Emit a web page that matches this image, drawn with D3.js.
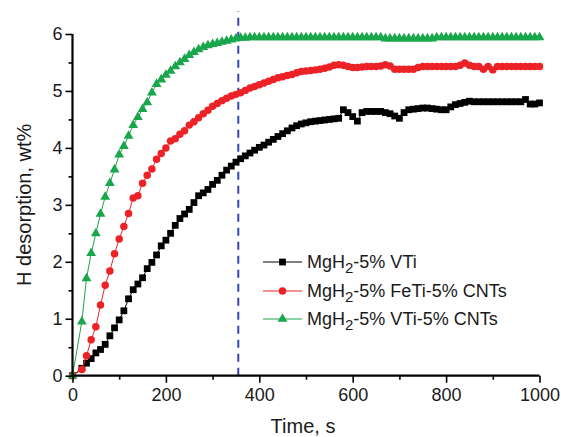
<!DOCTYPE html>
<html><head><meta charset="utf-8">
<script src="https://cdn.jsdelivr.net/npm/d3@7"></script>
<style>body{margin:0;background:#fff}svg{display:block}text{font-family:"Liberation Sans",Arial,sans-serif}</style>
</head><body><svg id="c" width="561" height="437"></svg>
<script>
const times = [0,20,30,40,50,60,70,80,90,100,110,120,130,140,150,160,170,180,190,200,210,220,230,240,250,260,270,280,290,300,310,320,330,340,350,360,370,380,390,400,410,420,430,440,450,460,470,480,490,500,510,520,530,540,550,560,570,580,590,600,610,620,630,640,650,660,670,680,690,700,710,720,730,740,750,760,770,780,790,800,810,820,830,840,850,860,870,880,890,900,910,920,930,940,950,960,970,980,990,1000];
const vti = [0,0.13,0.22,0.30,0.40,0.46,0.55,0.70,0.84,0.98,1.14,1.35,1.51,1.61,1.72,1.88,1.99,2.12,2.28,2.38,2.50,2.64,2.76,2.84,2.92,3.04,3.16,3.21,3.27,3.36,3.43,3.52,3.61,3.68,3.75,3.81,3.86,3.91,3.96,4.01,4.05,4.10,4.15,4.20,4.25,4.30,4.35,4.39,4.42,4.44,4.46,4.47,4.48,4.49,4.50,4.51,4.52,4.67,4.62,4.55,4.47,4.62,4.64,4.64,4.64,4.64,4.62,4.60,4.56,4.52,4.62,4.67,4.68,4.69,4.70,4.70,4.69,4.68,4.67,4.67,4.72,4.76,4.78,4.80,4.82,4.81,4.81,4.81,4.81,4.81,4.81,4.81,4.81,4.81,4.81,4.81,4.85,4.77,4.77,4.79];
const feti = [0,0.11,0.35,0.63,0.86,1.24,1.59,1.84,2.14,2.40,2.62,2.85,3.12,3.16,3.38,3.52,3.63,3.80,3.90,4.00,4.12,4.16,4.24,4.30,4.40,4.46,4.53,4.60,4.66,4.73,4.78,4.83,4.87,4.91,4.94,4.97,5.01,5.05,5.08,5.11,5.14,5.17,5.20,5.23,5.25,5.27,5.29,5.32,5.34,5.35,5.36,5.37,5.38,5.40,5.42,5.45,5.46,5.45,5.43,5.41,5.41,5.42,5.43,5.43,5.43,5.44,5.46,5.44,5.38,5.38,5.38,5.38,5.38,5.41,5.43,5.43,5.43,5.43,5.43,5.43,5.43,5.43,5.45,5.49,5.45,5.43,5.43,5.38,5.43,5.37,5.43,5.43,5.43,5.43,5.43,5.43,5.43,5.43,5.43,5.43];
const vticnt = [0,0.95,1.71,2.15,2.50,2.84,3.14,3.38,3.62,3.88,4.03,4.21,4.40,4.54,4.68,4.80,4.97,5.12,5.20,5.28,5.35,5.43,5.50,5.56,5.63,5.68,5.73,5.77,5.80,5.82,5.84,5.86,5.88,5.90,5.92,5.93,5.93,5.94,5.94,5.94,5.94,5.94,5.94,5.94,5.94,5.94,5.94,5.94,5.94,5.94,5.94,5.94,5.94,5.94,5.94,5.94,5.94,5.94,5.94,5.94,5.94,5.94,5.94,5.94,5.94,5.94,5.92,5.92,5.92,5.92,5.92,5.92,5.92,5.92,5.92,5.92,5.92,5.94,5.94,5.94,5.94,5.94,5.94,5.94,5.94,5.94,5.94,5.94,5.94,5.94,5.94,5.94,5.94,5.94,5.94,5.94,5.94,5.94,5.94,5.94];
const seriesNames = ["MgH|2|-5% VTi","MgH|2|-5% FeTi-5% CNTs","MgH|2|-5% VTi-5% CNTs"];
const xTicks = [0,200,400,600,800,1000];
const yTicks = [0,1,2,3,4,5,6];
const markerTime = 355;

const svg = d3.select("#c");
const x = d3.scaleLinear().domain([0,1000]).range([72.5,539.5]);
const y = d3.scaleLinear().domain([0,6]).range([375.7,34]);
const colors = ["#000000","#ec2227","#1aa64b"];
const shapes = [d3.symbolSquare, d3.symbolCircle, d3.symbolTriangle];
const sizes = [46, 44, 42];
const data = [vti, feti, vticnt];

// dashed vertical marker
svg.append("line").attr("x1",x(markerTime)).attr("x2",x(markerTime))
  .attr("y1",y(0)).attr("y2",y(6.4))
  .attr("stroke","#3347b3").attr("stroke-width",2).attr("stroke-dasharray","8,6");

const line = d3.line().x((d,i)=>x(times[i])).y(d=>y(d));
data.forEach((vals,k)=>{
  const g = svg.append("g");
  g.append("path").datum(vals).attr("d",line).attr("fill","none")
    .attr("stroke",colors[k]).attr("stroke-width",1);
  g.selectAll("path.m").data(vals).join("path").attr("class","m")
    .attr("transform",(d,i)=>`translate(${x(times[i])},${y(d)})`)
    .attr("d",d3.symbol().type(shapes[k]).size(sizes[k]))
    .attr("fill",colors[k]);
});

// axes
function styleAxis(g){
  g.selectAll("path.domain").remove();
  g.selectAll("line").attr("stroke","#000").attr("stroke-width",1.6);
  g.selectAll("text").attr("font-size",18).attr("fill","#1a1a1a");
}
const xMinor = svg.append("g").attr("transform",`translate(0,${y(0)})`)
  .call(d3.axisBottom(x).tickValues([100,300,500,700,900]).tickSize(4).tickFormat(""));
styleAxis(xMinor);
const xAxis = svg.append("g").attr("transform",`translate(0,${y(0)})`)
  .call(d3.axisBottom(x).tickValues(xTicks).tickSize(7).tickPadding(6).tickFormat(d3.format("d")));
styleAxis(xAxis);
const yMinor = svg.append("g").attr("transform",`translate(${x(0)},0)`)
  .call(d3.axisLeft(y).tickValues([0.5,1.5,2.5,3.5,4.5,5.5]).tickSize(4).tickFormat(""));
styleAxis(yMinor);
const yAxis = svg.append("g").attr("transform",`translate(${x(0)},0)`)
  .call(d3.axisLeft(y).tickValues(yTicks).tickSize(7).tickPadding(3).tickFormat(d3.format("d")));
styleAxis(yAxis);
svg.append("line").attr("x1",x(0)).attr("x2",x(1000)).attr("y1",y(0)).attr("y2",y(0))
  .attr("stroke","#000").attr("stroke-width",2.2);
svg.append("line").attr("x1",x(0)).attr("x2",x(0)).attr("y1",y(0)+1.1).attr("y2",y(6))
  .attr("stroke","#000").attr("stroke-width",2.2);

svg.append("text").attr("x",303).attr("y",433).attr("text-anchor","middle")
  .attr("font-size",20).attr("fill","#1a1a1a").text("Time, s");
svg.append("text").attr("transform",`translate(31,${(y(0)+y(6))/2}) rotate(-90)`)
  .attr("text-anchor","middle").attr("font-size",20).attr("fill","#1a1a1a").text("H desorption, wt%");

// legend
const legY = [262,291,319];
seriesNames.forEach((name,k)=>{
  const g = svg.append("g").attr("transform",`translate(0,${legY[k]})`);
  g.append("line").attr("x1",263).attr("x2",302).attr("y1",0).attr("y2",0)
    .attr("stroke",colors[k]).attr("stroke-width",1);
  g.append("path").attr("transform","translate(282.5,0)")
    .attr("d",d3.symbol().type(shapes[k]).size(sizes[k])).attr("fill",colors[k]);
  const parts = name.split("|");
  const t = g.append("text").attr("x",307).attr("y",6).attr("font-size",18).attr("fill","#1a1a1a");
  t.append("tspan").text(parts[0]);
  t.append("tspan").attr("dy",5).attr("font-size",15).text(parts[1]);
  t.append("tspan").attr("dy",-5).text(parts[2]);
});
</script></body></html>
